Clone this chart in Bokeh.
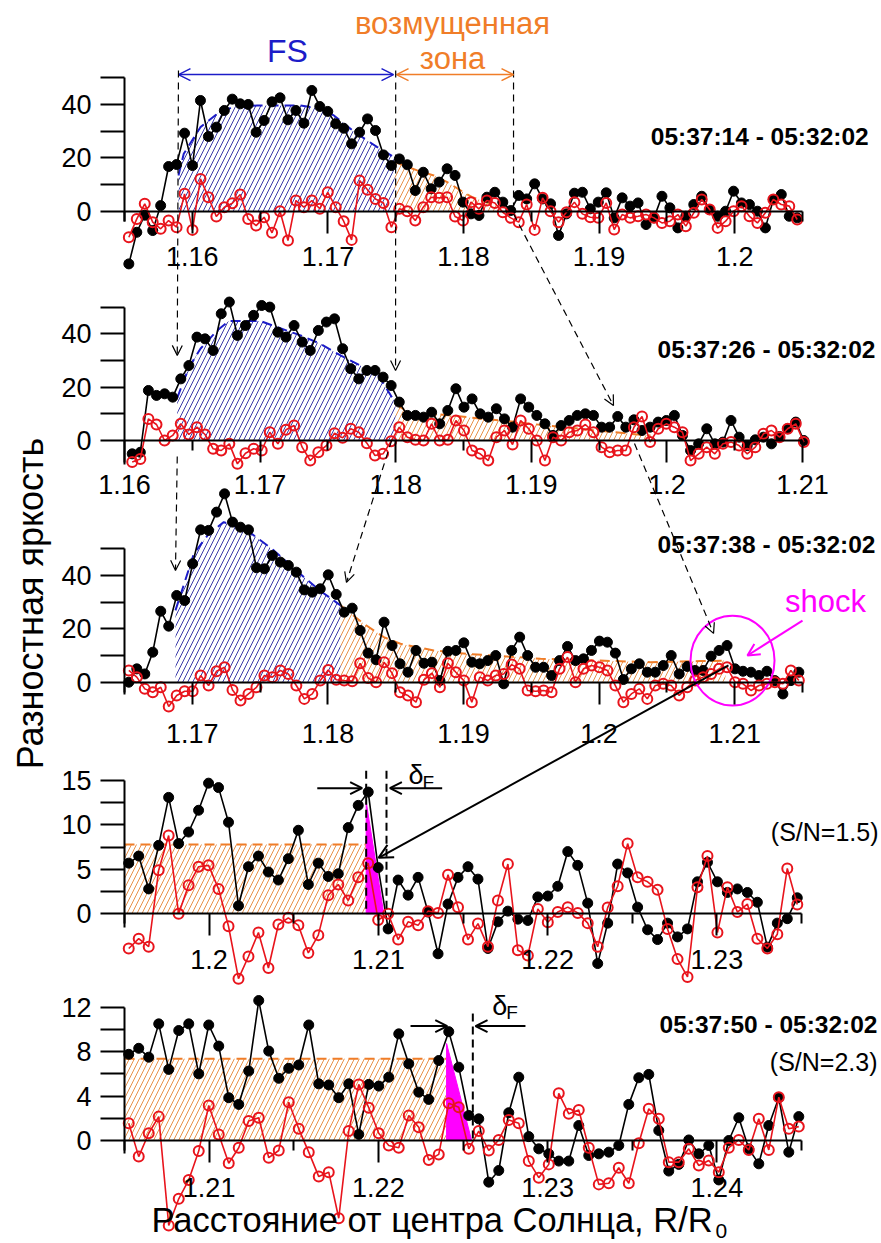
import numpy as np
from bokeh.plotting import figure
from bokeh.models import (Range1d, LinearAxis, FixedTicker, NumeralTickFormatter,
                          Arrow, OpenHead)
from bokeh.core.properties import value
from bokeh.embed import file_html
from bokeh.resources import INLINE

W, H = 881, 1243
FONT = "Liberation Sans"
BLACK = "#000000"
RED = "#e8141c"
BLUE = "#1c1cc8"
HATCH_BLUE = "#3a3aa8"
ORANGE = "#f07d28"
HATCH_ORANGE = "#e8914a"
MAGENTA = "#ff00ff"

# ---------------------------------------------------------------- data
# radial sample range (first, last sample) of each difference frame, R/R0
r1 = (1.15532, 1.20461)
r2 = (1.16057, 1.21010)
r3 = (1.16532, 1.21473)
r4 = (1.19525, 1.23475)
r5 = (1.20525, 1.24484)

# 05:37:14 - 05:32:02
f1_signal = [-19.75, -7.9, -1.5, -7.25, 2.1, 16.75, 17.5, 29.25, 17.1, 41.5, 28, 31.5,
             37.75, 42, 40.25, 40, 29.6, 34, 41, 42.5, 34.25, 37.75, 33, 45.25, 39.25,
             37.4, 32.75, 31.1, 25.25, 29.6, 34.6, 30.25, 21.1, 17.1, 19.6, 17.4, 7.75,
             14.6, 8.4, 10.9, 15.9, 13.4, 3.4, -1, -1.6, 5.25, 7.1, 3.4, 0.25, 5.9, 4.6,
             10.25, 4.6, 2.75, -9.1, -1, 6.75, 7.1, 0.9, 3.4, 6.9, -2.5, 5, 1.9, 3.1, -5,
             -2.5, 5.6, 1.25, -6.25, -1.9, 2.5, 5.6, 0.6, -1.9, 0, 7.5, 3.1, 2.5, 0,
             -6.25, 4.4, 6.25, -1.9, -2.5]
f1_noise = [-9.75, -2.9, 2.75, -4.1, -6.6, -3.5, -6, 6.5, -7, 12.1, 5.25, -2, 1.5, 3,
            6.25, -2.9, -5.4, -2.25, -8.1, 0, -11, 4, 1.5, 4, 0.9, 7.1, 1.5, -3.75,
            -10.75, 11.5, 8, 4.6, 3.1, -6, 0.9, 0, -3.5, 1.5, 5.25, 5, 5.25, -2, -3.5,
            3.4, 0.9, 4, 3.1, -0.4, -2.5, -4.1, 2.5, -7, 5, 0, -4.1, -0.4, 3.4, -1,
            -2.25, -2.5, 3.1, -6.9, -1.25, -2.5, -1.9, -1.25, -2.5, -4.4, -3.75, -1.25,
            -5.6, -0.6, 4.4, 0.6, -6.25, -3.75, 0, 1.9, -1.9, -4.4, -0.6, 4.4, 2.5,
            1.9, -3.1]

# 05:37:26 - 05:32:02
f2_signal = [-5, -4.4, 18.75, 16.9, 17.5, 16.25, 23.1, 28.1, 38.75, 38.1, 33.75, 47.5,
             51.9, 39.4, 43.1, 46.9, 50.6, 50, 40.6, 38.75, 43.1, 36.9, 33.75, 41.25,
             44.4, 45.6, 34.4, 26.9, 23.1, 26.25, 26.25, 23.75, 20.6, 14.4, 9.4, 9.4,
             8.75, 10.6, 6.25, 11.25, 19.4, 12.5, 15.6, 10, 8.75, 11.9, 8.1, 5, 15.6,
             12.5, 9.4, 6.25, 1.9, 5.6, 7.5, 9.4, 10, 9.4, 5, 5, 9, 5, 7.75, 3.75, 5,
             6.9, 7.5, 9.4, 1.9, -3.75, -1.25, 4.4, -1.25, -0.6, 7.5, 1.25, -1.9, 0.25,
             1.25, -1.25, 1.5, 4.4, 6.9, 0]
f2_noise = [-8.1, -6.9, 8.1, 6, 0, 1.9, 6.25, 2.25, 5, 2.25, -3.1, -3.75, -1.25, -8.75,
            -4.75, -3.1, -3.75, 3.1, -1.25, 4, 5.6, -2.5, -7.5, -4.4, -1.9, 2.75, 1,
            4.4, 3.1, -1, -5.6, -5, -0.25, 5, 1.25, 0.25, 0, 6.25, 0, 0.25, 7.5, 3.75,
            -3.75, -5, -7.5, 1.25, 3.75, -1.5, 7.5, 4.4, 0, -7.5, 1.25, 0, 3.1, 3.75, 6,
            3.1, -2.5, -4.4, -3.75, -3.75, 5, 9, -0.6, 4.4, 6.25, 5, 3.1, -7.5, -5,
            -2.5, -5, -1.25, -0.6, -1.9, -5, -2.5, 2.5, 3.75, 1.25, 4.4, 6.25, -0.6]

# 05:37:38 - 05:32:02
f3_signal = [0, 5, 3.1, 11.25, 26.6, 21, 32.5, 30.6, 44.4, 57.1, 56.9, 63.75, 70.6, 60,
             58.1, 57.1, 42.9, 42.5, 47.5, 45, 43.75, 41.25, 34.6, 33.75, 35, 40.25,
             32.9, 26.25, 27.75, 19.4, 10.9, 8.4, 22.5, 13.75, 6.9, 3.75, 11.9, 7.1,
             7.5, 0.6, 11.6, 11.9, 14.75, 7.5, 6.9, 8.1, 10, -0.6, 11.9, 16.9, 10, 5.6,
             5.6, 2.5, 8.1, 13.4, 8.1, 8.75, 11.9, 15.4, 15, 10.9, 1, 5, 6.9, 3.75,
             3.75, 6.25, 10, 3.1, 5.9, 4.4, 4.4, 9.75, 11.9, 13.75, 5, 4.1, 3.75, 2.5,
             4.1, 0.6, -4.4, 0.6, 3.75]
f3_noise = [4.4, 1.9, -2.5, -3.75, -1.9, -9.1, -5, -3.4, -3.4, 2.5, -1.25, 4.1, 5.6,
            -2.9, -6.9, -4.4, -1.9, 2.5, 1.9, 4.4, 3.1, -1.25, -6.25, -4.4, 0.6, 4.6,
            0.9, 0.6, 0.4, 7.1, 1.6, 0, 7.5, 3.4, -3.75, -5, -7.5, 0.9, 3.4, -1.9, 7.1,
            3.75, 0.6, -7.5, 1.9, 0.6, 2.5, 3.1, 6.6, 5, -3.1, -3.4, -3.1, -3.75, 5,
            9.4, 0, 5, 6.25, 5.6, 4.4, -1.25, -7.5, -4.4, -2.5, -6.25, -1.25, -0.6,
            -1.25, -5, -1.9, 0.6, 1.9, 3.1, 5, 5.6, 0, -0.6, -3.1, -1.25, -0.6, 0,
            -0.6, 4.4, 0.6]

# frame with S/N = 1.5
f4_signal = [5.7, 6.5, 2.8, 7.7, 13.1, 7.9, 9.2, 11.65, 14.7, 14.2, 10.3, 0.9, 5.3, 6.5,
             4.7, 3.8, 6.2, 9.4, 3.3, 5.7, 4.2, 4.5, 9.7, 12.2, 13.7, 5.2, -1.7, 3.8,
             2.1, 4.1, 0.2, -4.5, 1.1, 4.1, 5.3, 3.9, -3.9, -0.9, 0.3, -0.6, -0.75, 1.9,
             2, 3.1, 7, 5.45, 1.2, -5.6, -1.05, 5.6, 4.6, 0.75, -1.8, -2.9, -1.05, -2.6,
             -1.7, 3.6, 5.8, 3.6, 2.4, 2.8, 2.4, 1.3, -3.75, -1.05, -0.55, 1.8]
f4_noise = [-3.9, -2.8, -3.7, 4.9, 8.8, 0, 3.2, 5.3, 5.45, 2.8, -1.4, -7.3, -4.8, -2.1,
            -6.1, -1.2, -0.45, -1.3, -4.4, -2.4, 2.1, 3.3, 1.5, 4.1, 5.7, -0.7, 0, -2.9,
            -0.9, -1.3, 0.3, 0.1, 4.4, 0.75, -2.9, -1.1, -3.7, 1.5, 5.6, -4.1, -4.7,
            0.55, -0.95, 0.2, 0.75, 0.1, -1.05, -3.7, 0.7, 3.1, 7.9, 4.1, 3.6, 2.7,
            -1.7, -5.1, -7.1, 3, 6.5, -2.1, 3, 0.2, 1.1, -2.8, -3.9, -2.3, 5.1, 1.05]

# 05:37:50 - 05:32:02, S/N = 2.3
f5_signal = [7.76, 8.3, 7.5, 10.5, 6.4, 9.9, 10.5, 6, 10.4, 8.5, 3.85, 3.25, 6.25, 12.6,
             8.05, 5.6, 6.5, 6.8, 10.4, 5.1, 5, 3.85, 5.1, 0.55, 5.05, 4.9, 5.7, 9.6,
             6.9, 4.35, 3.7, 7.2, 9.8, 6.6, 2.25, 1.95, -3.75, -2.7, 2.5, 5.7, 0.35,
             -0.75, -1.2, -1.85, -1.85, 1.35, -1.35, -1.2, -1.05, -0.45, 3.25, 5.65,
             5.95, 0.9, -2.75, -2.15, 0.05, -1.2, -0.45, -3.55, 0, 2.05, -0.75, -2.1,
             1.35, 3.85, -1.05, 2.15]
f5_noise = [1.55, -1.45, 0.65, 2.15, -7.65, -5.25, -3.55, -0.95, 3.15, 0.55, -2.05,
            -0.65, 1.75, 2.05, -1.55, -0.9, 3.45, 1.05, -1.05, -3.25, -2.85, -7, 0.85,
            5.05, 2.95, 0.65, -0.45, -0.65, 2.25, 1.2, -1.75, -1.25, 3.35, 3, -0.75,
            0.85, -0.9, 0.05, 1.85, 1.55, -1.85, -3.35, -2.15, 4.25, 2.4, 2.75, -0.65,
            -3.95, -3.85, -2.45, -3.85, -0.25, 2.85, 1.95, -1.95, -1.95, -0.75, -2.25,
            -1.8, -2.85, -0.65, 0.05, -0.85, 1.95, -0.85, 3.9, 1.05, 1.25]

# smooth profiles: front structure (FS) and disturbed zone
fs1_r = [1.15898, 1.15937, 1.1606, 1.16184, 1.16306, 1.16478, 1.16798, 1.16921, 1.17044,
         1.17191, 1.17364, 1.17491]
fs1_v = [13.4, 21.5, 31.5, 36.5, 39.2, 39.6, 39.6, 38.7, 35.9, 29.9, 24.0, 20.2]
dz1_r = [1.17491, 1.17658, 1.17781, 1.1788, 1.17978, 1.18064, 1.1825]
dz1_v = [18.5, 15.3, 13.4, 10.9, 7.8, 5.25, 2.0]

fs2_r = [1.16389, 1.16474, 1.1656, 1.16684, 1.16769, 1.17003, 1.17126, 1.17298, 1.17445,
         1.17593, 1.1774, 1.17864, 1.17999]
fs2_v = [16.0, 27.25, 34.4, 41.25, 44.75, 44.75, 42.5, 39.4, 36.25, 31.9, 28.1, 25.0, 14.0]
dz2_r = [1.17999, 1.18109, 1.18281, 1.18404, 1.1865, 1.18896, 1.18994, 1.1924, 1.19486,
         1.19732, 1.19879]
dz2_v = [13.75, 10.0, 10.0, 9.4, 8.1, 6.9, 6.25, 5.0, 3.75, 2.5, 1.9]

fs3_r = [1.16876, 1.17011, 1.1712, 1.17232, 1.17405, 1.17601, 1.17822, 1.1795, 1.18093]
fs3_v = [26.9, 48.1, 55.5, 60.0, 56.9, 49.4, 39.4, 34.0, 28.8]
dz3_r = [1.18093, 1.18265, 1.18412, 1.18535, 1.18781, 1.19027, 1.19396, 1.19568, 1.2038,
         1.20748, 1.20932]
dz3_v = [28.8, 21.9, 16.9, 14.4, 11.9, 10.6, 9.4, 8.8, 7.5, 7.9, 8.1]

dz4_r = [1.195, 1.20928]
dz4_level = 7.8
dz5_r = [1.205, 1.22403]
dz5_level = 7.37

# shock front width delta_F (area between peak and fall-off)
df4_r = [1.20928, 1.20928, 1.21032]
df4_v = [12.6, 0.0, 0.0]
df5_r = [1.22403, 1.22403, 1.22551]
df5_v = [8.73, 0.0, 0.0]

time_labels = ["05:37:14 - 05:32:02", "05:37:26 - 05:32:02", "05:37:38 - 05:32:02",
               None, "05:37:50 - 05:32:02"]

# ---------------------------------------------------------------- layout of the stack
LEFT_PX = 124
TICK_FONT = "27px"
PANELS = [
    dict(name="p1", x_lo=1.155, x_hi=1.205, xs=13560, y0=210.7, ys=2.668, yb=(-4, 50),
         yt=[0, 20, 40], ymt=[10, 30, 50],
         xt=[1.16, 1.17, 1.18, 1.19, 1.2], xmt=[1.155, 1.165, 1.175, 1.185, 1.195, 1.205],
         standoff=14),
    dict(name="p2", x_lo=1.16, x_hi=1.21, xs=13560, y0=440.0, ys=2.668, yb=(-9, 50),
         yt=[0, 20, 40], ymt=[10, 30, 50],
         xt=[1.16, 1.17, 1.18, 1.19, 1.2, 1.21], xmt=[1.165, 1.175, 1.185, 1.195, 1.205],
         standoff=12),
    dict(name="p3", x_lo=1.165, x_hi=1.215, xs=13560, y0=681.7, ys=2.668, yb=(-4.5, 50),
         yt=[0, 20, 40], ymt=[10, 30, 50],
         xt=[1.17, 1.18, 1.19, 1.2, 1.21], xmt=[1.165, 1.175, 1.185, 1.195, 1.205, 1.215],
         standoff=20),
    dict(name="p4", x_lo=1.195, x_hi=1.235, xs=16925, y0=913.3, ys=8.887, yb=(-1.5, 15),
         yt=[0, 5, 10, 15], ymt=[2.5, 7.5, 12.5],
         xt=[1.2, 1.21, 1.22, 1.23], xmt=[1.195, 1.205, 1.215, 1.225, 1.235],
         standoff=14),
    dict(name="p5", x_lo=1.205, x_hi=1.245, xs=16925, y0=1140.0, ys=11.108, yb=(-1.2, 12),
         yt=[0, 4, 8, 12], ymt=[2, 6, 10],
         xt=[1.21, 1.22, 1.23, 1.24], xmt=[1.205, 1.215, 1.225, 1.235, 1.245],
         standoff=15),
]
G = {g["name"]: g for g in PANELS}


def to_page(name, r, v):
    """Position of a panel data point on the page (pixels, y downwards)."""
    g = G[name]
    return LEFT_PX + (r - g["x_lo"]) * g["xs"], g["y0"] - v * g["ys"]


p = figure(width=W, height=H, x_range=Range1d(0, W), y_range=Range1d(H, 0),
           x_axis_type=None, y_axis_type=None, toolbar_location=None,
           output_backend="svg", min_border=0)
p.outline_line_color = None
p.background_fill_color = "white"
p.border_fill_color = "white"

xr, yr = {}, {}
for g in PANELS:
    xr[g["name"]] = Range1d(g["x_lo"] - LEFT_PX / g["xs"], g["x_lo"] + (W - LEFT_PX) / g["xs"])
    yr[g["name"]] = Range1d((g["y0"] - H) / g["ys"], g["y0"] / g["ys"])
p.extra_x_ranges = xr
p.extra_y_ranges = yr


def rn(name):
    return dict(x_range_name=name, y_range_name=name)


def hatch_area(name, r, v, color):
    xs = [r[0]] + list(r) + [r[-1]]
    ys = [0.0] + list(v) + [0.0]
    p.patch(xs, ys, fill_color=None, line_color=None, hatch_pattern="/",
            hatch_color=color, hatch_scale=10, hatch_weight=1, **rn(name))


# hatched FS / disturbed zones and their profiles
for name, r, v in [("p1", dz1_r, dz1_v), ("p2", dz2_r, dz2_v), ("p3", dz3_r, dz3_v)]:
    hatch_area(name, r, v, HATCH_ORANGE)
    p.line(r, v, line_color=ORANGE, line_width=2, line_dash="10 6", **rn(name))
for name, r, lvl in [("p4", dz4_r, dz4_level), ("p5", dz5_r, dz5_level)]:
    hatch_area(name, r, [lvl, lvl], HATCH_ORANGE)
    p.line(r, [lvl, lvl], line_color=ORANGE, line_width=2, line_dash="10 6", **rn(name))
for name, r, v in [("p1", fs1_r, fs1_v), ("p2", fs2_r, fs2_v), ("p3", fs3_r, fs3_v)]:
    hatch_area(name, r, v, HATCH_BLUE)
    p.line(r, v, line_color=BLUE, line_width=2, line_dash="10 6", **rn(name))

for name, r, v in [("p4", df4_r, df4_v), ("p5", df5_r, df5_v)]:
    p.patch(r, v, fill_color=MAGENTA, line_color=MAGENTA, line_width=1, **rn(name))

# axes, placed at zero brightness and at the first radius of each panel
for g in PANELS:
    n = g["name"]
    xa = LinearAxis(fixed_location=0, bounds=(g["x_lo"], g["x_hi"]),
                    ticker=FixedTicker(ticks=g["xt"], minor_ticks=g["xmt"]),
                    formatter=NumeralTickFormatter(format="0.[00]"),
                    axis_line_width=2, major_tick_line_width=2, minor_tick_line_width=2,
                    major_tick_in=0, major_tick_out=22, minor_tick_in=0, minor_tick_out=10,
                    major_label_standoff=g["standoff"],
                    major_label_text_font=FONT, major_label_text_font_size=TICK_FONT,
                    major_label_text_color=BLACK, **rn(n))
    p.add_layout(xa, "below")
    ya = LinearAxis(fixed_location=g["x_lo"], bounds=g["yb"],
                    ticker=FixedTicker(ticks=g["yt"], minor_ticks=g["ymt"]),
                    axis_line_width=2, major_tick_line_width=2, minor_tick_line_width=2,
                    major_tick_in=0, major_tick_out=24, minor_tick_in=0, minor_tick_out=24,
                    major_label_standoff=9,
                    major_label_text_font=FONT, major_label_text_font_size=TICK_FONT,
                    major_label_text_color=BLACK, **rn(n))
    p.add_layout(ya, "left")

# measured profiles: signal (black) and noise (red)
frames = [("p1", r1, f1_signal, f1_noise), ("p2", r2, f2_signal, f2_noise),
          ("p3", r3, f3_signal, f3_noise), ("p4", r4, f4_signal, f4_noise),
          ("p5", r5, f5_signal, f5_noise)]
for name, span, sig, noi in frames:
    rs = np.linspace(span[0], span[1], len(sig))
    rn_ = np.linspace(span[0], span[1], len(noi))
    p.line(rs, sig, line_color=BLACK, line_width=1.6, **rn(name))
    p.scatter(rs, sig, marker="circle", size=10, fill_color=BLACK, line_color=BLACK, **rn(name))
    p.line(rn_, noi, line_color=RED, line_width=1.6, **rn(name))
    p.scatter(rn_, noi, marker="circle", size=10, fill_color=None, line_color=RED,
              line_width=2, **rn(name))


def txt(name, x, y, s, size, color=BLACK, align="center", bold=False, angle=0.0):
    kw = rn(name) if name else {}
    p.text([x], [y], text=[s], text_font=value(FONT), text_font_size=value(size),
           text_color=color, text_align=align, text_baseline="middle",
           text_font_style="bold" if bold else "normal", angle=angle, **kw)


# time stamps and S/N
time_pos = {"p1": (1.20988, 28.0), "p2": (1.21538, 34.1), "p3": (1.22038, 51.6),
            "p5": (1.24949, 10.44)}
for g, lab in zip(PANELS, time_labels):
    if lab:
        x, y = time_pos[g["name"]]
        txt(g["name"], x, y, lab, "24.5px", align="right", bold=True)
txt("p4", 1.23955, 9.26, "(S/N=1.5)", "25px", align="right")
txt("p5", 1.24949, 7.11, "(S/N=2.3)", "25px", align="right")

# FS / disturbed zone markers on top of the first frame
txt("p1", 1.16702, 60.2, "FS", "32px", color=BLUE)
txt("p1", 1.17919, 70.4, "возмущенная", "31px", color=ORANGE)
txt("p1", 1.17919, 57.2, "зона", "31px", color=ORANGE)
p.add_layout(Arrow(x_start=1.15898, y_start=51.2, x_end=1.17484, y_end=51.2,
                   line_color=BLUE, line_width=1.5,
                   start=OpenHead(size=12, line_color=BLUE, line_width=1.5),
                   end=OpenHead(size=12, line_color=BLUE, line_width=1.5), **rn("p1")))
p.add_layout(Arrow(x_start=1.17506, y_start=51.2, x_end=1.18369, y_end=51.2,
                   line_color=ORANGE, line_width=1.5,
                   start=OpenHead(size=12, line_color=ORANGE, line_width=1.5),
                   end=OpenHead(size=12, line_color=ORANGE, line_width=1.5), **rn("p1")))
p.line([1.18369, 1.18369], [52.7, -1.0], line_color=BLACK, line_width=1.2,
       line_dash="7 5", **rn("p1"))

# dashed tracks of the FS edges from frame to frame
tracks = [(("p1", 1.15898, 52.7), ("p2", 1.16389, 31.9)),
          (("p2", 1.16389, -6.0), ("p3", 1.16876, 41.9)),
          (("p1", 1.175, 52.7), ("p2", 1.17999, 26.2)),
          (("p2", 1.1797, 0.0), ("p3", 1.18137, 37.4)),
          (("p1", 1.18369, -1.0), ("p2", 1.19606, 13.1)),
          (("p2", 1.19761, -1.1), ("p3", 1.20844, 18.3))]
for a, b in tracks:
    xa_, ya_ = to_page(*a)
    xb_, yb_ = to_page(*b)
    p.add_layout(Arrow(x_start=xa_, y_start=ya_, x_end=xb_, y_end=yb_,
                       line_color=BLACK, line_width=1.2, line_dash="7 5",
                       end=OpenHead(size=10, line_color=BLACK, line_width=1.2)))

# shock marker in the third frame and its link to the S/N = 1.5 frame
p.ellipse([1.20984], [8.1], width=0.006195, height=33.7, fill_color=None,
          line_color=MAGENTA, line_width=2, **rn("p3"))
txt("p3", 1.2167, 30.2, "shock", "31px", color=MAGENTA)
p.add_layout(Arrow(x_start=1.215, y_start=23.1, x_end=1.21094, y_end=10.0,
                   line_color=MAGENTA, line_width=2,
                   end=OpenHead(size=12, line_color=MAGENTA, line_width=2), **rn("p3")))
sx0, sy0 = to_page("p3", 1.20954, 6.3)
sx1, sy1 = to_page("p4", 1.21001, 6.3)
p.add_layout(Arrow(x_start=sx0, y_start=sy0, x_end=sx1, y_end=sy1,
                   line_color=BLACK, line_width=2,
                   end=OpenHead(size=14, line_color=BLACK, line_width=2)))

# delta_F markers
for name, xl, xr_, ytop, ya_, a1, a2, dpos in [
        ("p4", 1.20928, 1.21048, 16.1, 14.13, (1.20639, 1.20904), (1.21377, 1.21068),
         (1.21178, 15.6)),
        ("p5", None, 1.22558, 11.43, 10.3, (1.2219, 1.22407), (1.22869, 1.22574),
         (1.22673, 12.15))]:
    for xv in (xl, xr_):
        if xv is not None:
            p.line([xv, xv], [ytop, 0], line_color=BLACK, line_width=2, line_dash="8 5",
                   **rn(name))
    for s, e in (a1, a2):
        p.add_layout(Arrow(x_start=s, y_start=ya_, x_end=e, y_end=ya_, line_color=BLACK,
                           line_width=2, end=OpenHead(size=12, line_color=BLACK, line_width=2),
                           **rn(name)))
    txt(name, dpos[0], dpos[1], "δ", "27px", align="left")
    g = G[name]
    txt(name, dpos[0] + 14 / g["xs"], dpos[1] - 7 / g["ys"], "F", "19px", align="left")

# axis titles
p.text([30], [603], text=["Разностная яркость"], text_font=value(FONT),
       text_font_size=value("36px"), text_color=BLACK, text_align="center",
       text_baseline="middle", angle=np.pi / 2)
p.text([151], [1219], text=["Расстояние от центра Солнца, R/R"], text_font=value(FONT),
       text_font_size=value("34.5px"), text_color=BLACK, text_align="left",
       text_baseline="middle")
p.text([715], [1230], text=["0"], text_font=value(FONT), text_font_size=value("21px"),
       text_color=BLACK, text_align="left", text_baseline="middle")

open("out.html", "w").write(file_html(p, INLINE))
